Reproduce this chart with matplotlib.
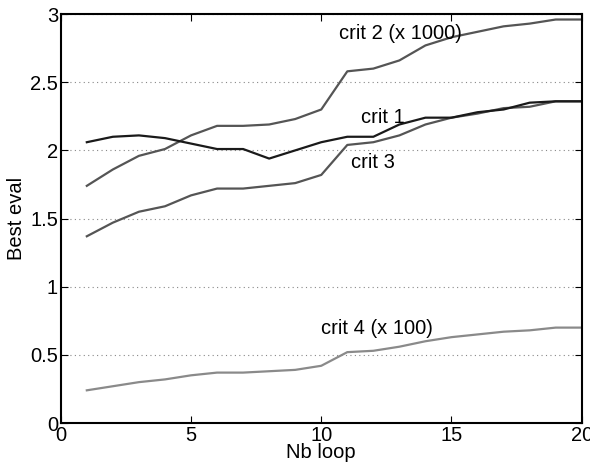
import matplotlib.pyplot as plt

plt.rcParams['font.family'] = ['Liberation Sans', 'DejaVu Sans']

nb_loop = list(range(1, 21))
crit1 = [2.06, 2.10, 2.11, 2.09, 2.05, 2.01, 2.01, 1.94, 2.00, 2.06,
         2.10, 2.10, 2.19, 2.24, 2.24, 2.28, 2.30, 2.35, 2.36, 2.36]
crit2 = [1.74, 1.86, 1.96, 2.01, 2.11, 2.18, 2.18, 2.19, 2.23, 2.30,
         2.58, 2.60, 2.66, 2.77, 2.83, 2.87, 2.91, 2.93, 2.96, 2.96]
crit3 = [1.37, 1.47, 1.55, 1.59, 1.67, 1.72, 1.72, 1.74, 1.76, 1.82,
         2.04, 2.06, 2.11, 2.19, 2.24, 2.27, 2.31, 2.32, 2.36, 2.36]
crit4 = [0.24, 0.27, 0.30, 0.32, 0.35, 0.37, 0.37, 0.38, 0.39, 0.42,
         0.52, 0.53, 0.56, 0.60, 0.63, 0.65, 0.67, 0.68, 0.70, 0.70]

fig = plt.figure(figsize=(5.9, 4.69), dpi=100)
ax = fig.add_axes([0.103, 0.098, 0.883, 0.872])

ax.plot(nb_loop, crit2, color='#555555', linewidth=1.6)
ax.plot(nb_loop, crit3, color='#555555', linewidth=1.6)
ax.plot(nb_loop, crit4, color='#8a8a8a', linewidth=1.6)
ax.plot(nb_loop, crit1, color='#1a1a1a', linewidth=1.6)

# etiquettes des courbes
fs = 14.5
ax.text(13.05, 2.86, "crit 2 (x 1000)", fontsize=fs, ha='center', va='center')
ax.text(12.35, 2.24, "crit 1", fontsize=fs, ha='center', va='center')
ax.text(12.0, 1.91, "crit 3", fontsize=fs, ha='center', va='center')
ax.text(12.15, 0.69, "crit 4 (x 100)", fontsize=fs, ha='center', va='center')

ax.set_xlim(0, 20)
ax.set_ylim(0, 3)
ax.set_xticks([0, 5, 10, 15, 20])
ax.set_yticks([0, 0.5, 1, 1.5, 2, 2.5, 3])
ax.set_yticklabels(['0', '0.5', '1', '1.5', '2', '2.5', '3'])
ax.tick_params(direction='in', labelsize=fs, top=True, right=True, length=5, pad=2)
ax.yaxis.grid(True, linestyle=(0, (1, 3)), color='#888888', linewidth=0.8)
for s in ax.spines.values():
    s.set_linewidth(1.5)

ax.set_xlabel("Nb loop", fontsize=fs, labelpad=-1)
ax.set_ylabel("Best eval", fontsize=fs, labelpad=3)

fig.savefig("out.png", dpi=100)
